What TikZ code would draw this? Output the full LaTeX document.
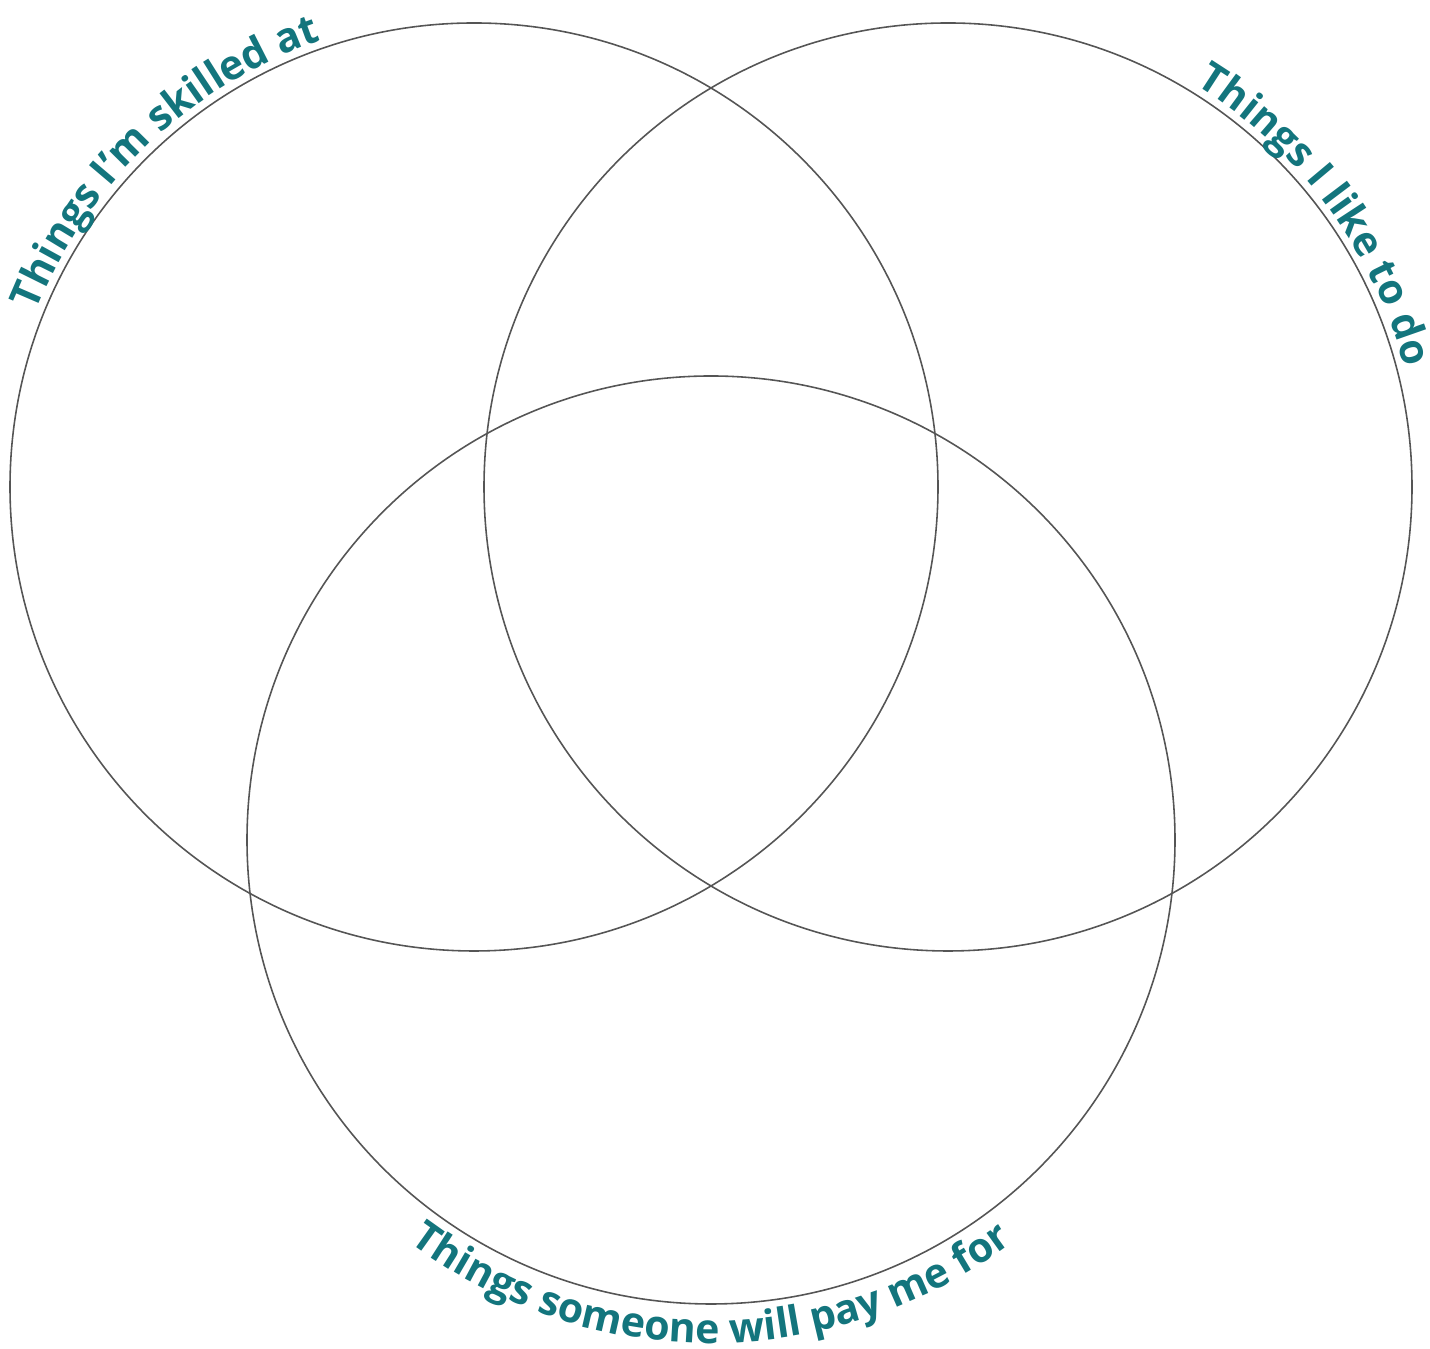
\documentclass[tikz,border=0pt]{standalone}
\usepackage{fontspec}
\setmainfont{Open Sans}
\usetikzlibrary{decorations.text}
\definecolor{tealc}{RGB}{19,117,125}
\definecolor{linec}{RGB}{85,85,85}
\begin{document}
\begin{tikzpicture}[x=0.01cm,y=0.01cm,
  ring/.style={draw=linec, line width=0.45pt},
  curvetext/.style={decorate, decoration={text along path, text align=center, text color=tealc, text={#1}}}]
\useasboundingbox (0,0) rectangle (1430,1349);
\coordinate (skill) at (474,862);
\coordinate (like) at (948,862);
\coordinate (pay) at (711,509);
\draw[ring] (skill) circle[radius=464];
\draw[ring] (like) circle[radius=464];
\draw[ring] (pay) circle[radius=464];
\path[curvetext={|\bfseries\fontsize{11.7}{13}\selectfont|Things I’m skilled at}]
  ([shift={(180:472)}]skill) arc[start angle=180,end angle=87,radius=472];
\path[curvetext={|\bfseries\fontsize{11.7}{13}\selectfont|Things I like to do}]
  ([shift={(90:472)}]like) arc[start angle=90,end angle=-17,radius=472];
\path[curvetext={|\bfseries\fontsize{11.7}{13}\selectfont|Things someone will pay me for}]
  ([shift={(200:503)}]pay) arc[start angle=200,end angle=340,radius=503];
\end{tikzpicture}
\end{document}
